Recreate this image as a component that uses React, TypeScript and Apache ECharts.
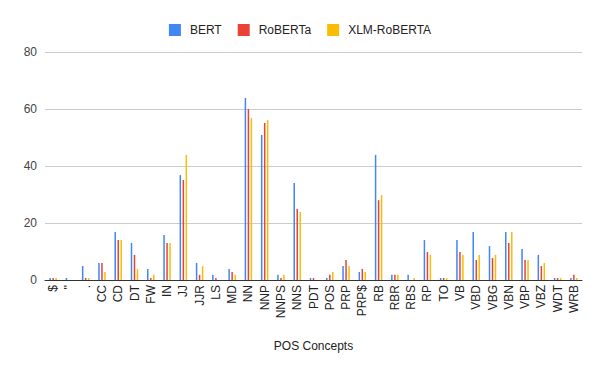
import React, { useEffect, useRef } from "react";
import * as echarts from "echarts";

const categories = ["$", "''", ".", "CC", "CD", "DT", "FW", "IN", "JJ", "JJR", "LS", "MD", "NN", "NNP", "NNPS", "NNS", "PDT", "POS", "PRP", "PRP$", "RB", "RBR", "RBS", "RP", "TO", "VB", "VBD", "VBG", "VBN", "VBP", "VBZ", "WDT", "WRB"];

const bert = [0.7, 0.7, 4.9, 6, 16.8, 13, 3.9, 15.8, 36.8, 6, 1.8, 3.9, 63.9, 50.9, 1.8, 34, 0.7, 0.7, 4.9, 2.8, 43.9, 1.8, 1.8, 14, 0.7, 14, 16.8, 11.9, 16.8, 10.9, 8.8, 0.7, 0.7];
const roberta = [0.7, 0, 0.7, 6, 14, 8.8, 0.7, 13, 35.1, 1.8, 0.7, 2.8, 60, 55.1, 0.7, 24.9, 0.7, 1.8, 7, 3.9, 28, 1.8, 0, 9.8, 0.7, 9.8, 7, 7.7, 13, 7, 4.9, 0.7, 1.8];
const xlmRoberta = [0.7, 0, 0.7, 2.8, 14, 3.9, 1.8, 13, 43.9, 4.9, 0, 1.8, 56.8, 56.1, 1.8, 23.9, 0, 2.8, 4.9, 2.8, 29.8, 1.8, 0.7, 8.8, 0.7, 8.8, 8.8, 8.8, 16.8, 7, 6, 0.7, 0.7];

const yTicks = { min: 0, max: 80, interval: 20 };

const FONT = "'Liberation Sans', Arial, sans-serif";

export default function App() {
  const ref = useRef<HTMLDivElement>(null);
  useEffect(() => {
    if (!ref.current) return;
    const chart = echarts.init(ref.current, undefined, { renderer: "svg" });
    const mk = (name: string, data: number[], color: string) => ({
      name,
      type: "bar",
      data,
      barWidth: 1.5,
      barGap: "100%",
      itemStyle: { color },
    });
    chart.setOption({
      animation: false,
      backgroundColor: "#ffffff",
      textStyle: { fontFamily: FONT },
      legend: {
        top: 19,
        left: "center",
        itemWidth: 12,
        itemHeight: 12,
        itemGap: 16,
        icon: "rect",
        textStyle: { fontFamily: FONT, fontSize: 12, color: "#222", padding: [0, 0, 0, 4] },
        data: ["BERT", "RoBERTa", "XLM-RoBERTA"],
      },
      grid: { left: 45, right: 18, top: 52, bottom: 91, containLabel: false },
      xAxis: {
        type: "category",
        data: categories,
        name: "POS Concepts",
        nameLocation: "middle",
        nameGap: 60,
        nameTextStyle: { fontFamily: FONT, fontSize: 12, color: "#222" },
        axisLine: { lineStyle: { color: "#333", width: 1 } },
        axisTick: { show: false },
        axisLabel: {
          rotate: 90,
          interval: 0,
          fontFamily: FONT,
          fontSize: 12,
          color: "#222",
          margin: 5,
        },
      },
      yAxis: {
        type: "value",
        min: yTicks.min,
        max: yTicks.max,
        interval: yTicks.interval,
        axisLine: { show: false },
        axisTick: { show: false },
        axisLabel: { fontFamily: FONT, fontSize: 12, color: "#444", margin: 8 },
        splitLine: { lineStyle: { color: "#cccccc", width: 1 } },
      },
      series: [
        mk("BERT", bert, "#4285F4"),
        mk("RoBERTa", roberta, "#EA4335"),
        mk("XLM-RoBERTA", xlmRoberta, "#FBBC04"),
      ],
    });
    return () => chart.dispose();
  }, []);
  return <div ref={ref} style={{ width: 600, height: 371, position: "absolute", left: 0, top: 0 }} />;
}
